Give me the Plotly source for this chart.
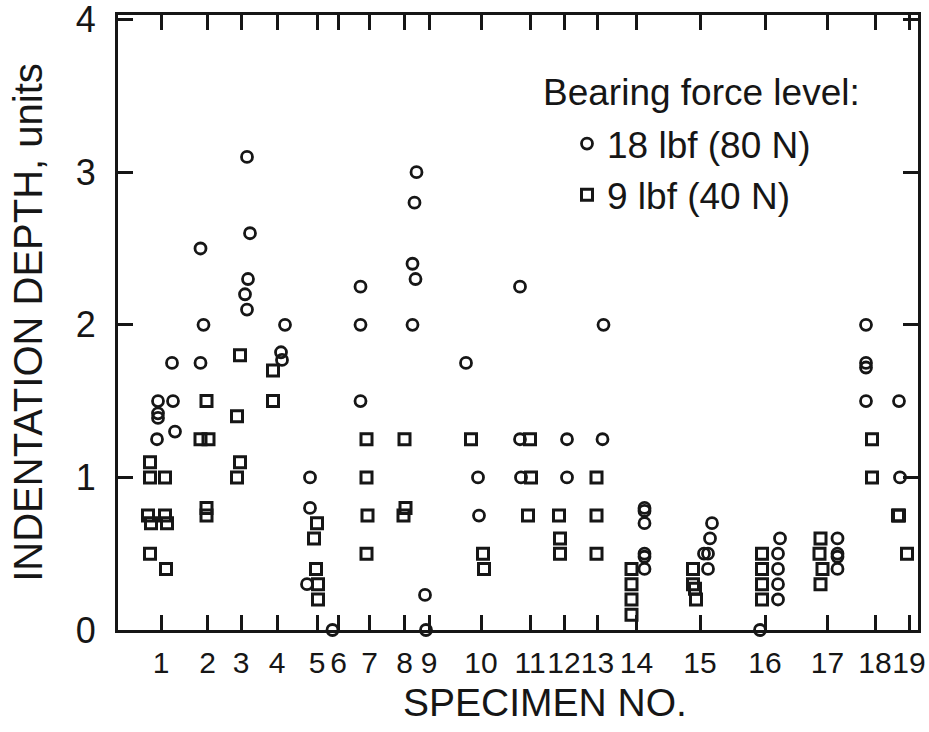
import plotly.graph_objects as go

# Specimen labels and their positions along the (non-uniform) x axis, in axis units
specimens = [str(i) for i in range(1, 20)]
specimen_pos = [43, 89.5, 123, 159, 199, 220.5, 251.5, 286.5, 311, 363,
                412, 446, 479.5, 518.5, 582, 647, 709.5, 757, 791]

# 18 lbf (80 N) readings: specimen number, small horizontal offset, depth
c18_spec = [1, 1, 1, 1, 1, 1, 1,
            2, 2, 2,
            3, 3, 3, 3, 3,
            4, 4, 4,
            5, 5, 5,
            6,
            7, 7, 7,
            8, 8, 8, 8, 8,
            9, 9,
            10, 10, 10,
            11, 11, 11,
            12, 12,
            13, 13,
            14, 14, 14, 14, 14, 14,
            15, 15, 15, 15, 15,
            16, 16, 16, 16, 16, 16,
            17, 17, 17, 17,
            18, 18, 18, 18,
            19, 19]
c18_dx = [-3, 12, -3, -3, 14, -4, 11,
          -7, -4, -7,
          6, 9, 7, 4, 6,
          8, 4, 5,
          -7, -7, -10,
          -6,
          -9, -9, -9,
          12, 10, 8, 11, 8,
          -4, -3,
          -15, -3, -2,
          -10, -10, -9,
          3, 3,
          6, 5,
          8, 8, 8, 8, 8, 8,
          12, 10, 8, 4, 8,
          15, 13, 13, 13, 13, -5,
          10, 10, 10, 10,
          -9, -9, -9, -9,
          -10, -9]
c18_val = [1.5, 1.5, 1.42, 1.39, 1.3, 1.25, 1.75,
           2.5, 2.0, 1.75,
           3.1, 2.6, 2.3, 2.2, 2.1,
           2.0, 1.82, 1.77,
           1.0, 0.8, 0.3,
           0.0,
           2.25, 2.0, 1.5,
           3.0, 2.8, 2.4, 2.3, 2.0,
           0.23, 0.0,
           1.75, 1.0, 0.75,
           2.25, 1.25, 1.0,
           1.25, 1.0,
           2.0, 1.25,
           0.8, 0.78, 0.7, 0.5, 0.48, 0.4,
           0.7, 0.6, 0.5, 0.5, 0.4,
           0.6, 0.5, 0.4, 0.3, 0.2, 0.0,
           0.6, 0.5, 0.48, 0.4,
           2.0, 1.75, 1.72, 1.5,
           1.5, 1.0]

# 9 lbf (40 N) readings
c9_spec = [1, 1, 1, 1, 1, 1, 1, 1, 1,
           2, 2, 2, 2, 2,
           3, 3, 3, 3,
           4, 4,
           5, 5, 5, 5, 5,
           7, 7, 7, 7,
           8, 8, 8,
           10, 10, 10,
           11, 11, 11,
           12, 12, 12,
           13, 13, 13,
           14, 14, 14, 14,
           15, 15, 15, 15,
           16, 16, 16, 16,
           17, 17, 17, 17,
           18, 18,
           19, 19, 19]
c9_dx = [-11, -11, 4, -13, 4, -10, 6, -11, 5,
         -1, -7, 1, -1, -1,
         -1, -4, -1, -4,
         -4, -4,
         0, -3, -1, 1, 1,
         -3, -3, -2, -3,
         0, 1, -1,
         -10, 2, 3,
         0, 1, -2,
         -5, -4, -4,
         -1, -1, -1,
         -5, -5, -5, -5,
         -7, -7, -5, -4,
         -3, -3, -3, -3,
         -7, -8, -5, -7,
         -3, -3,
         -11, -10, -2]
c9_val = [1.1, 1.0, 1.0, 0.75, 0.75, 0.7, 0.7, 0.5, 0.4,
          1.5, 1.25, 1.25, 0.8, 0.75,
          1.8, 1.4, 1.1, 1.0,
          1.7, 1.5,
          0.7, 0.6, 0.4, 0.3, 0.2,
          1.25, 1.0, 0.75, 0.5,
          1.25, 0.8, 0.75,
          1.25, 0.5, 0.4,
          1.25, 1.0, 0.75,
          0.75, 0.6, 0.5,
          1.0, 0.75, 0.5,
          0.4, 0.3, 0.2, 0.1,
          0.4, 0.3, 0.27, 0.2,
          0.5, 0.4, 0.3, 0.2,
          0.6, 0.5, 0.4, 0.3,
          1.25, 1.0,
          0.75, 0.75, 0.5]

y_ticks = [0, 1, 2, 3, 4]

INK = "#161616"
FONT = "Liberation Sans, Arial, Helvetica, sans-serif"

TOP, BOTTOM, LEFT, RIGHT = 15, 630, 118, 918
PH = BOTTOM - TOP
PW = RIGHT - LEFT


def xpos(spec, dx):
    return [specimen_pos[s - 1] + d for s, d in zip(spec, dx)]


fig = go.Figure()
fig.add_trace(go.Scatter(
    x=xpos(c18_spec, c18_dx), y=c18_val, mode="markers",
    name="18 lbf (80 N)",
    marker=dict(symbol="circle-open", size=11, color=INK,
                line=dict(width=2.8, color=INK)),
    cliponaxis=False,
))
fig.add_trace(go.Scatter(
    x=xpos(c9_spec, c9_dx), y=c9_val, mode="markers",
    name="9 lbf (40 N)",
    marker=dict(symbol="square-open", size=11, color=INK,
                line=dict(width=3, color=INK)),
    cliponaxis=False,
))

fig.update_layout(
    width=929, height=732,
    margin=dict(l=LEFT, r=929 - RIGHT, t=TOP, b=732 - BOTTOM, autoexpand=False),
    paper_bgcolor="white", plot_bgcolor="white",
    font=dict(family=FONT, color=INK, size=37),
    showlegend=True,
    legend=dict(
        x=(567 - LEFT) / PW, xanchor="left", y=(BOTTOM - 113) / PH, yanchor="top",
        bgcolor="rgba(0,0,0,0)", borderwidth=0,
        font=dict(size=37, family=FONT, color=INK),
        itemsizing="trace", tracegroupgap=0,
    ),
    annotations=[
        dict(text="Bearing force level:", xref="paper", yref="paper",
             x=(541 - LEFT) / PW, y=(BOTTOM - 92) / PH,
             xanchor="left", yanchor="middle", showarrow=False,
             font=dict(size=37, family=FONT, color=INK)),
        dict(text="SPECIMEN NO.", xref="paper", yref="paper",
             x=(545 - LEFT) / PW, y=(BOTTOM - 702) / PH,
             xanchor="center", yanchor="middle", showarrow=False,
             font=dict(size=39, family=FONT, color=INK)),
    ],
)

fig.update_xaxes(
    range=[0, 800], tickmode="array", tickvals=specimen_pos, ticktext=specimens,
    ticks="inside", ticklen=15, tickwidth=2.5, tickcolor=INK,
    showline=True, linewidth=3, linecolor=INK, mirror="ticks",
    showgrid=False, zeroline=False, tickangle=0, automargin=False,
    tickfont=dict(size=30, family=FONT, color=INK), ticklabelstandoff=4,
)
fig.update_yaxes(
    range=[0, 4.03], tickmode="array", tickvals=y_ticks, ticktext=[str(v) for v in y_ticks],
    ticks="inside", ticklen=15, tickwidth=2.5, tickcolor=INK,
    showline=True, linewidth=3, linecolor=INK, mirror="ticks",
    showgrid=False, zeroline=False, ticklabeloverflow="allow", automargin=False,
    tickfont=dict(size=36, family=FONT, color=INK), ticklabelstandoff=12,
    title=dict(text="INDENTATION DEPTH, units", font=dict(size=40, family=FONT, color=INK), standoff=21),
)

fig.write_html("out.html")
